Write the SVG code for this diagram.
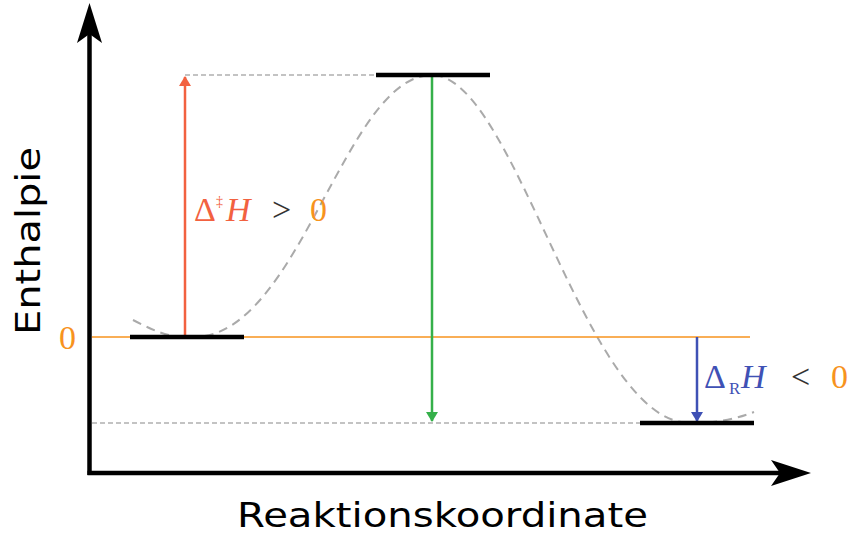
<svg xmlns="http://www.w3.org/2000/svg" width="852" height="541" viewBox="0 0 852 541">
<style>
.lvl{stroke:#000;stroke-width:4.5;fill:none}
.guide{stroke:#b0b0b0;stroke-width:1.5;stroke-dasharray:5,3;fill:none}
.curve{stroke:#aaaaaa;stroke-width:2;stroke-dasharray:9,6;fill:none}
.math{font-family:"Liberation Serif","DejaVu Serif",serif;font-size:34px}
.lab{font-family:"DejaVu Sans","Liberation Sans",sans-serif;font-size:34px;fill:#000}
</style>
<defs>
<marker id="ar" markerWidth="10" markerHeight="12" refX="9" refY="6" orient="auto" markerUnits="userSpaceOnUse"><path d="M0,0 L10,6 L0,12 Z" fill="#f26140"/></marker>
<marker id="ag" markerWidth="10" markerHeight="12" refX="9" refY="6" orient="auto" markerUnits="userSpaceOnUse"><path d="M0,0 L10,6 L0,12 Z" fill="#35b04a"/></marker>
<marker id="ab" markerWidth="10" markerHeight="12" refX="9" refY="6" orient="auto" markerUnits="userSpaceOnUse"><path d="M0,0 L10,6 L0,12 Z" fill="#3f51b5"/></marker>
</defs>
<g id="curve">
<path class="curve" d="M133,320 C160,334 172,338 195,337 C 300,335 345,75 432,75 C 515,75 585,423 690,423 C 720,423 738,418 754,412"/>
</g>
<g id="guides">
<line class="guide" x1="185" y1="75" x2="378" y2="75"/>
<line class="guide" x1="92" y1="423" x2="640" y2="423"/>
<line x1="92" y1="337" x2="750" y2="337" stroke="#f7931e" stroke-width="1.6"/>
</g>
<g id="axes">
<line x1="89.5" y1="475" x2="89.5" y2="30" stroke="#000" stroke-width="4.5"/>
<path d="M89.5,3 L102,43 L89.5,34 L77,43 Z" fill="#000"/>
<line x1="87.5" y1="473" x2="785" y2="473" stroke="#000" stroke-width="4.5"/>
<path d="M811,473 L771,486 L780,473 L771,460 Z" fill="#000"/>
</g>
<g id="connectors">
<line x1="185" y1="337" x2="185" y2="77" stroke="#f26140" stroke-width="2.5" marker-end="url(#ar)"/>
<line x1="432" y1="77" x2="432" y2="421" stroke="#35b04a" stroke-width="2.5" marker-end="url(#ag)"/>
<line x1="697" y1="337" x2="697" y2="421" stroke="#3f51b5" stroke-width="2.5" marker-end="url(#ab)"/>
</g>
<g id="reactant"><line class="lvl" x1="130" y1="337" x2="244" y2="337"/></g>
<g id="transition"><line class="lvl" x1="376" y1="75" x2="490" y2="75"/></g>
<g id="product"><line class="lvl" x1="640" y1="423" x2="754" y2="423"/></g>
<g id="labels">
<text class="math" x="59" y="349" fill="#f7931e">0</text>
<text class="math" y="221"><tspan x="194" fill="#f26140">Δ</tspan><tspan x="216" y="206" fill="#f26140" font-size="14">‡</tspan><tspan x="226" y="221" fill="#f26140" font-style="italic">H</tspan><tspan x="272" fill="#333">&gt;</tspan><tspan x="310" fill="#f7931e">0</tspan></text>
<text class="math" y="388"><tspan x="704" fill="#3f51b5">Δ</tspan><tspan x="729" y="394" fill="#3f51b5" font-size="17">R</tspan><tspan x="741" y="388" fill="#3f51b5" font-style="italic">H</tspan><tspan x="791" fill="#333">&lt;</tspan><tspan x="831" fill="#f7931e">0</tspan></text>
<text class="lab" x="237" y="527" textLength="411" lengthAdjust="spacingAndGlyphs">Reaktionskoordinate</text>
<text class="lab" x="0" y="0" text-anchor="middle" textLength="188" lengthAdjust="spacingAndGlyphs" transform="translate(40,241) rotate(-90)">Enthalpie</text>
</g>
</svg>
